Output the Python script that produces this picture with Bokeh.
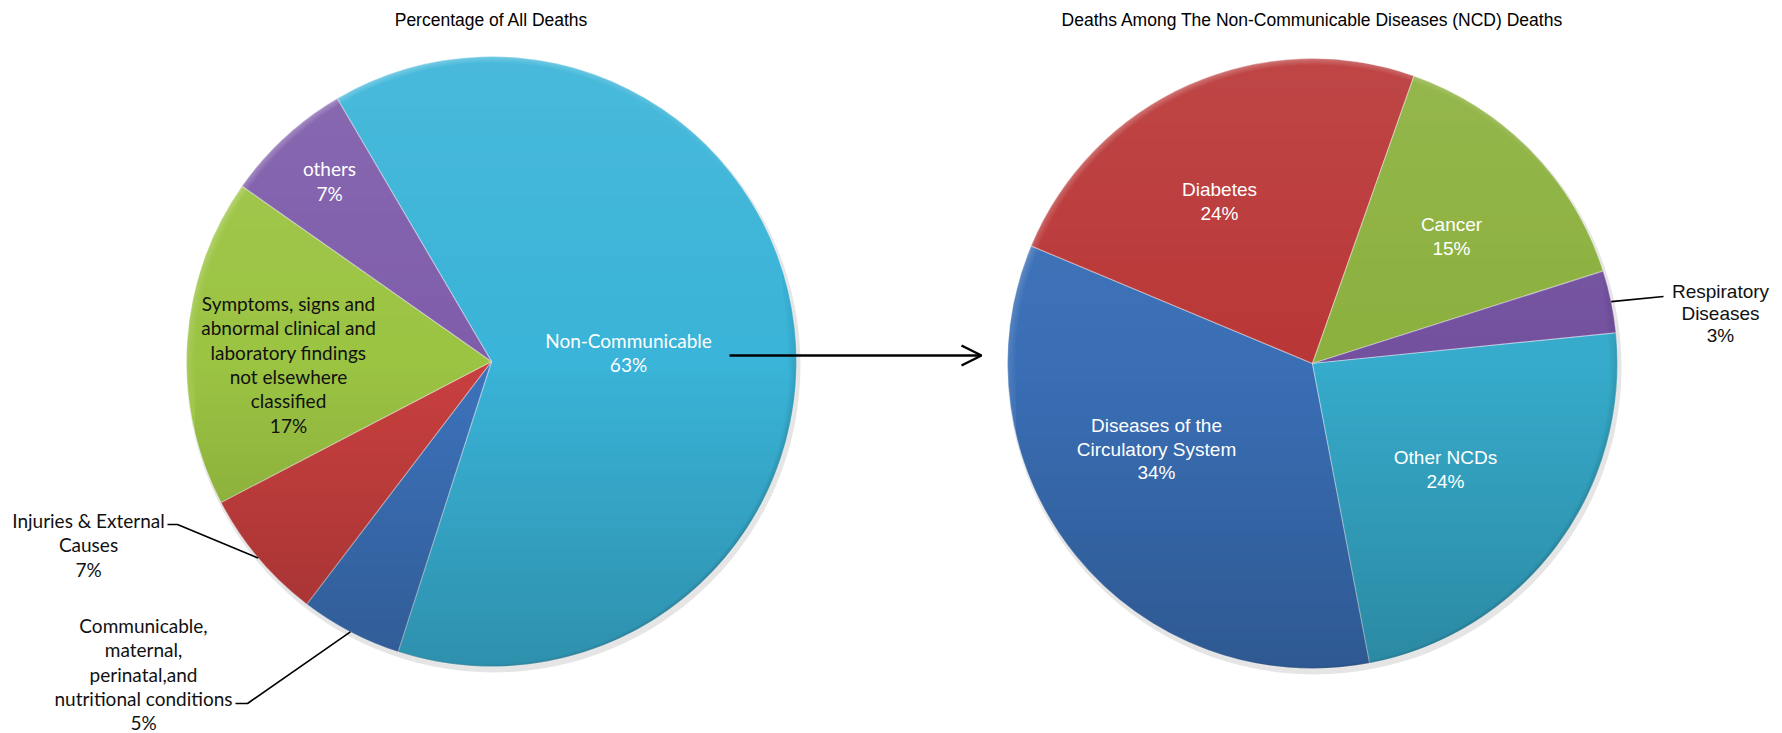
import math
import numpy as np
from bokeh.plotting import figure
from bokeh.models import Range1d, Arrow, OpenHead, ColumnDataSource
from bokeh.core.properties import value
from bokeh.embed import file_html
from bokeh.resources import INLINE

# ---------------- data ----------------
left_title = "Percentage of All Deaths"
left_categories = [
    "Non-Communicable",
    "Communicable,\nmaternal,\nperinatal,and\nnutritional conditions",
    "Injuries & External\nCauses",
    "Symptoms, signs and\nabnormal clinical and\nlaboratory findings\nnot elsewhere\nclassified",
    "others",
]
left_values = [63.4, 5.4, 7.0, 17.4, 6.8]
left_colors = ["#3ab4d8", "#3d73bc", "#c9403f", "#9cc443", "#7f5dab"]

right_title = "Deaths Among The Non-Communicable Diseases (NCD) Deaths"
right_categories = [
    "Diseases of the\nCirculatory System",
    "Diabetes",
    "Cancer",
    "Respiratory\nDiseases",
    "Other NCDs",
]
right_values = [34.3, 24.1, 14.7, 3.3, 23.6]
right_colors = ["#3a6fb6", "#ba3737", "#8cb13e", "#73519f", "#36abcb"]

# ---------------- layout (screen pixels) ----------------
W, H = 1782, 733
M = 0
RAD = 305
LEFT_C = (491, 361)
RIGHT_C = (1312, 363)
LEFT_START = 120.4
RIGHT_START = -79.2

CAL = "Lato"
ARI = "Liberation Sans"
left_label_pos = [
    (628, 340, 24.3, "#ffffff"),
    (143, 625, 24.3, "#111111"),
    (88, 520, 24.3, "#111111"),
    (288, 303, 24.3, "#111111"),
    (329, 167.5, 25.5, "#ffffff"),
]
right_label_pos = [
    (1156, 425, 23.5, "#ffffff"),
    (1219, 189, 23.5, "#ffffff"),
    (1451, 224, 23.5, "#ffffff"),
    (1720, 291, 22.0, "#111111"),
    (1445, 457, 23.5, "#ffffff"),
]


def Y(sy):
    return -sy


p = figure(width=W, height=H, output_backend="svg", toolbar_location=None,
           x_range=Range1d(M, M + W), y_range=Range1d(-(M + H), -M),
           x_axis_type=None, y_axis_type=None, min_border=0,
           background_fill_color="white", border_fill_color="white")
p.outline_line_color = None
p.grid.visible = False


def pie_angles(values, start_deg):
    total = float(sum(values))
    a = math.radians(start_deg)
    starts, ends = [], []
    for v in values:
        s = v / total * 2 * math.pi
        starts.append(a)
        a -= s
        ends.append(a)
    mids = [(s + e) / 2 for s, e in zip(starts, ends)]
    pcts = [f"{round(v / total * 100)}%" for v in values]
    return starts, ends, mids, pcts


def shade(rad):
    n = 2 * rad + 1
    yy, xx = np.mgrid[0:n, 0:n]
    dx = xx - rad
    dy = yy - rad
    r = np.hypot(dx, dy)
    t = dy / rad
    col = np.where(t > 0, 255, 0).astype(float)
    alpha = np.where(t > 0, t * 0.08, -t * 0.20)
    band = 9.0
    rim = np.clip(1 - (rad - r) / band, 0, 1)
    lit = (dy - 0.4 * dx) / rad
    rim_col = np.where(lit > 0, 255, 0)
    rim_alpha = rim * np.where(lit > 0, 0.30 * lit, 0.28 * -lit)
    use_rim = rim_alpha > alpha
    col = np.where(use_rim, rim_col, col)
    alpha = np.where(use_rim, rim_alpha, alpha)
    edge = np.clip(rad + 0.5 - r, 0, 1)
    alpha = alpha * edge
    img = np.zeros((n, n, 4), dtype=np.uint8)
    img[..., 0] = col
    img[..., 1] = col
    img[..., 2] = col
    img[..., 3] = np.clip(alpha * 255, 0, 255).astype(np.uint8)
    return img.view(dtype=np.uint32).reshape((n, n))


def draw_pie(center, values, colors, start_deg):
    cx, cy = center
    starts, ends, mids, pcts = pie_angles(values, start_deg)
    src = ColumnDataSource(dict(x=[cx] * len(values), y=[Y(cy)] * len(values),
                                start=starts, end=ends, color=colors))
    p.circle(x=cx + 2, y=Y(cy + 4), radius=RAD + 2, fill_color="#000000",
             fill_alpha=0.10, line_color=None)
    p.wedge(x="x", y="y", radius=RAD, start_angle="start", end_angle="end",
            direction="clock", fill_color="color", line_color="#ffffff",
            line_alpha=0.35, line_width=1.2, source=src)
    img = shade(RAD)
    p.image_rgba(image=[img], x=cx - RAD - 0.5, y=Y(cy) - RAD - 0.5,
                 dw=2 * RAD + 1, dh=2 * RAD + 1)
    return mids, pcts


def draw_labels(categories, pcts, positions, font):
    for name, pct, (x, y0, gap, color) in zip(categories, pcts, positions):
        lines = name.split("\n") + [pct]
        xs = [x] * len(lines)
        ys = [Y(y0 + i * gap) for i in range(len(lines))]
        p.text(x=xs, y=ys, text=lines, text_align="center", text_baseline="middle",
               text_font=value(font), text_font_size="19px", text_color=color)


lmids, lpcts = draw_pie(LEFT_C, left_values, left_colors, LEFT_START)
rmids, rpcts = draw_pie(RIGHT_C, right_values, right_colors, RIGHT_START)

draw_labels(left_categories, lpcts, left_label_pos, CAL)
draw_labels(right_categories, rpcts, right_label_pos, ARI)


def edge_point(center, ang):
    return center[0] + RAD * math.cos(ang), Y(center[1]) + RAD * math.sin(ang)


# leader lines
ex, ey = edge_point(LEFT_C, lmids[2])
p.line([167, 177, ex], [Y(524), Y(524), ey], line_color="black", line_width=1.6)
ex, ey = edge_point(LEFT_C, lmids[1])
p.line([235, 247, ex], [Y(703), Y(703), ey], line_color="black", line_width=1.6)
ex, ey = edge_point(RIGHT_C, rmids[3])
p.line([ex, 1663], [ey, Y(296)], line_color="black", line_width=1.6)

# arrow between charts
p.add_layout(Arrow(end=OpenHead(size=20, line_width=2.5, line_color="black"),
                   x_start=729, y_start=Y(355), x_end=981, y_end=Y(355),
                   line_width=2.5, line_color="black"))

# titles
p.text(x=[LEFT_C[0], RIGHT_C[0]], y=[Y(19), Y(19)], text=[left_title, right_title],
       text_align="center", text_baseline="middle", text_font=value(ARI),
       text_font_size="17.5px", text_color="black")

open("out.html", "w").write(file_html(p, INLINE))
